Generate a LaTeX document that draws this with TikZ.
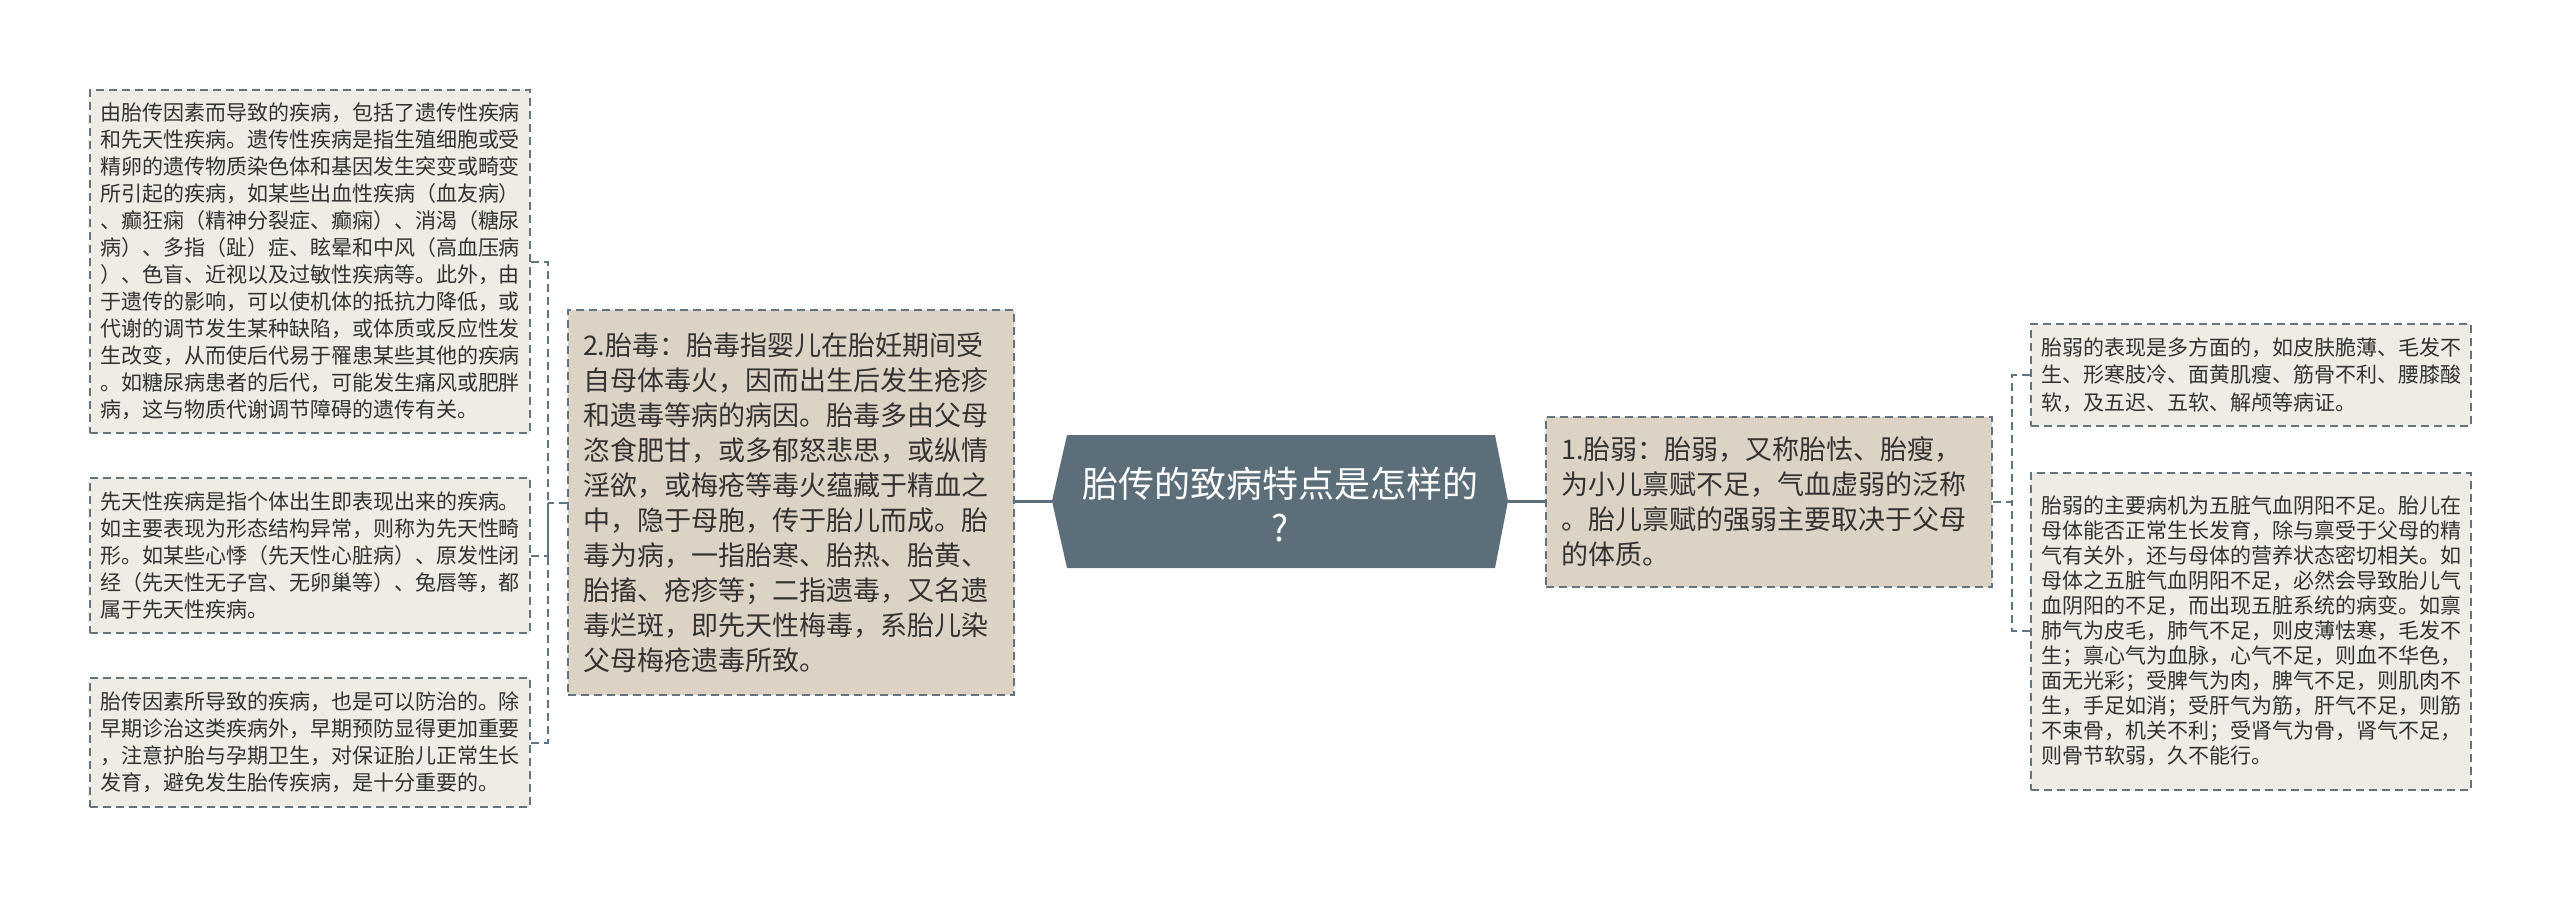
\documentclass[tikz,border=0pt]{standalone}
\usepackage{fontspec}
\setmainfont{Noto Sans CJK SC}
\usetikzlibrary{calc}
\definecolor{edgec}{HTML}{627480}
\definecolor{leaffill}{HTML}{EFEBE5}
\definecolor{mainfill}{HTML}{DDD3C4}
\definecolor{hexfill}{HTML}{5B6E7A}
\definecolor{txt}{HTML}{333333}
\tikzset{
  boxbase/.style={draw=edgec, dash pattern=on 8pt off 5pt, line width=2pt, text=txt, align=left, inner ysep=0pt},
  leafbox/.style={boxbase, fill=leaffill, font=\fontsize{21}{27}\selectfont, text width=420pt, inner xsep=10pt, minimum width=440pt},
  mainbox/.style={boxbase, fill=mainfill, font=\fontsize{27}{35}\selectfont, text width=416pt, inner xsep=15pt, minimum width=446pt},
  conn/.style={draw=edgec, dash pattern=on 8pt off 5pt, line width=2pt},
  hubline/.style={draw=hexfill, line width=3pt},
}
\begin{document}
\begin{tikzpicture}[x=1pt,y=-1pt]
\useasboundingbox[fill=white] (0,0) rectangle (2560,897);

% central hexagon
\coordinate (cl) at (1052,501);
\coordinate (cr) at (1508,501);
\fill[hexfill] (cl) -- (1067,435) -- (1495,435) -- (cr) -- (1495,568) -- (1067,568) -- cycle;
\node[text=white, font=\fontsize{36}{44}\selectfont, align=center, inner sep=0pt] (hub) at (1280,505) {胎传的致病特点是怎样的\\?};

% main nodes
\node[mainbox, minimum height=385pt] (n2) at (791,502.5) {2.胎毒：胎毒指婴儿在胎妊期间受\\
自母体毒火，因而出生后发生疮疹\\
和遗毒等病的病因。胎毒多由父母\\
恣食肥甘，或多郁怒悲思，或纵情\\
淫欲，或梅疮等毒火蕴藏于精血之\\
中，隐于母胞，传于胎儿而成。胎\\
毒为病，一指胎寒、胎热、胎黄、\\
胎搐、疮疹等；二指遗毒，又名遗\\
毒烂斑，即先天性梅毒，系胎儿染\\
父母梅疮遗毒所致。};

\node[mainbox, minimum height=170pt] (n1) at (1769,502) {1.胎弱：胎弱，又称胎怯、胎瘦，\\
为小儿禀赋不足，气血虚弱的泛称\\
。胎儿禀赋的强弱主要取决于父母\\
的体质。};

% left leaves
\node[leafbox, minimum height=343pt] (la) at (310,261.5) {由胎传因素而导致的疾病，包括了遗传性疾病\\
和先天性疾病。遗传性疾病是指生殖细胞或受\\
精卵的遗传物质染色体和基因发生突变或畸变\\
所引起的疾病，如某些出血性疾病（血友病）\\
、癫狂痫（精神分裂症、癫痫）、消渴（糖尿\\
病）、多指（趾）症、眩晕和中风（高血压病\\
）、色盲、近视以及过敏性疾病等。此外，由\\
于遗传的影响，可以使机体的抵抗力降低，或\\
代谢的调节发生某种缺陷，或体质或反应性发\\
生改变，从而使后代易于罹患某些其他的疾病\\
。如糖尿病患者的后代，可能发生痛风或肥胖\\
病，这与物质代谢调节障碍的遗传有关。};

\node[leafbox, minimum height=155pt] (lb) at (310,555.5) {先天性疾病是指个体出生即表现出来的疾病。\\
如主要表现为形态结构异常，则称为先天性畸\\
形。如某些心悸（先天性心脏病）、原发性闭\\
经（先天性无子宫、无卵巢等）、兔唇等，都\\
属于先天性疾病。};

\node[leafbox, minimum height=129pt] (lc) at (310,742.5) {胎传因素所导致的疾病，也是可以防治的。除\\
早期诊治这类疾病外，早期预防显得更加重要\\
，注意护胎与孕期卫生，对保证胎儿正常生长\\
发育，避免发生胎传疾病，是十分重要的。};

% right leaves
\node[leafbox, minimum height=102pt, font=\fontsize{21}{27.5}\selectfont] (ld) at (2251,375) {胎弱的表现是多方面的，如皮肤脆薄、毛发不\\
生、形寒肢冷、面黄肌瘦、筋骨不利、腰膝酸\\
软，及五迟、五软、解颅等病证。};

\node[leafbox, minimum height=317pt, font=\fontsize{21}{25}\selectfont] (le) at (2251,631) {胎弱的主要病机为五脏气血阴阳不足。胎儿在\\
母体能否正常生长发育，除与禀受于父母的精\\
气有关外，还与母体的营养状态密切相关。如\\
母体之五脏气血阴阳不足，必然会导致胎儿气\\
血阴阳的不足，而出现五脏系统的病变。如禀\\
肺气为皮毛，肺气不足，则皮薄怯寒，毛发不\\
生；禀心气为血脉，心气不足，则血不华色，\\
面无光彩；受脾气为肉，脾气不足，则肌肉不\\
生，手足如消；受肝气为筋，肝气不足，则筋\\
不束骨，机关不利；受肾气为骨，肾气不足，\\
则骨节软弱，久不能行。};

% hub connectors
\draw[hubline] (cl) -- (cl -| n2.east);
\draw[hubline] (cr) -- (cr -| n1.west);

% left bracket
\draw[conn] (n2.west) -- ++(-19,0) coordinate (bl);
\draw[conn] (la.east) -| (bl);
\draw[conn] (lb.east) -| (bl);
\draw[conn] (lc.east) -| (bl);

% right bracket
\draw[conn] (n1.east) -- ++(19,0) coordinate (br);
\draw[conn] (ld.west) -| (br);
\draw[conn] (le.west) -| (br);
\end{tikzpicture}
\end{document}
